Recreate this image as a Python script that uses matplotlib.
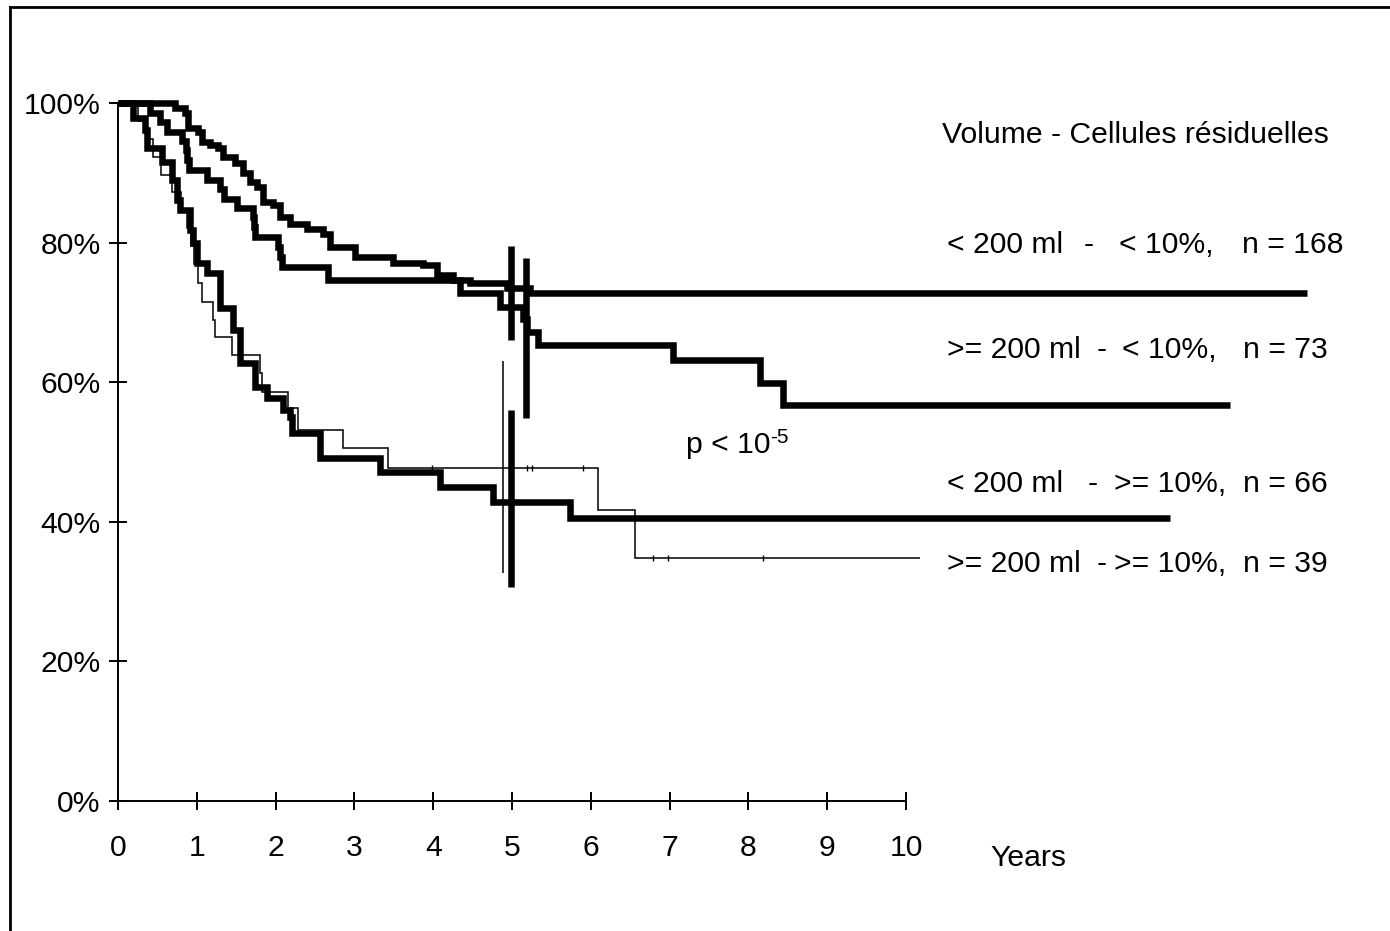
import matplotlib
matplotlib.use("Agg")
import matplotlib.pyplot as plt
from matplotlib.lines import Line2D

plt.rcParams['font.family'] = ['Liberation Sans', 'DejaVu Sans']

# ---------------- data ----------------
# group < 200 ml - < 10%, n = 168
t168 = [0, 0.72, 0.85, 0.89, 1.02, 1.07, 1.17, 1.27, 1.33, 1.48, 1.59, 1.68, 1.76, 1.84,
        1.97, 2.06, 2.18, 2.40, 2.60, 2.69, 3.01, 3.49, 3.87, 4.05, 4.25, 4.47, 4.94, 5.23, 15.09]
s168 = [100, 99.3, 98.6, 96.4, 95.8, 94.4, 94.0, 93.6, 92.3, 91.4, 90.0, 88.7, 88.0, 85.8,
        85.4, 83.7, 82.6, 82.0, 81.2, 79.4, 77.9, 77.1, 76.8, 75.4, 74.6, 74.2, 73.5, 72.8, 72.8]

# group >= 200 ml - < 10%, n = 73
t73 = [0, 0.41, 0.53, 0.62, 0.81, 0.86, 0.88, 0.90, 1.13, 1.30, 1.35, 1.51, 1.71, 1.72, 1.74,
       2.03, 2.05, 2.08, 2.66, 4.34, 4.85, 5.14, 5.19, 5.33, 7.04, 8.15, 8.44, 14.11]
s73 = [100, 98.6, 97.3, 95.9, 94.5, 93.2, 91.8, 90.4, 89.0, 87.7, 86.3, 84.9, 83.6, 82.2, 80.8,
       79.4, 78.0, 76.5, 74.6, 72.8, 70.8, 69.0, 67.2, 65.3, 63.2, 59.9, 56.7, 56.7]

# group < 200 ml - >= 10%, n = 66
t66 = [0, 0.19, 0.34, 0.37, 0.56, 0.69, 0.75, 0.79, 0.91, 0.95, 1.0, 1.13, 1.29, 1.46, 1.55,
       1.74, 1.89, 2.09, 2.18, 2.21, 2.56, 3.32, 4.09, 4.76, 5.74, 13.35]
s66 = [100, 97.9, 96.1, 93.6, 91.5, 89.0, 86.1, 84.7, 81.8, 79.9, 77.1, 75.6, 70.6, 67.5, 62.8,
       59.3, 57.7, 56.0, 55.0, 52.7, 49.1, 47.1, 45.0, 42.8, 40.5, 40.5]

# group >= 200 ml - >= 10%, n = 39
t39 = [0, 0.25, 0.35, 0.45, 0.55, 0.68, 0.80, 0.88, 0.93, 0.97, 1.02, 1.07, 1.21, 1.23, 1.45,
       1.80, 1.83, 2.16, 2.28, 2.86, 3.43, 6.09, 6.56, 10.18]
s39 = [100, 97.4, 94.9, 92.3, 89.7, 87.2, 84.6, 82.1, 79.5, 76.9, 74.2, 71.5, 68.9, 66.5, 63.9,
       61.3, 58.6, 56.3, 53.2, 50.6, 47.7, 41.7, 34.8, 34.8]
cens39_t = [3.98, 5.19, 5.25, 5.90, 6.79, 6.98, 8.18]
cens39_s = [47.7, 47.7, 47.7, 47.7, 34.8, 34.8, 34.8]

# 5-year confidence bars: 168, 73, 39, 66
ci_t = [4.99, 5.18, 4.88, 4.99]
ci_lo = [66.0, 54.9, 32.7, 30.7]
ci_hi = [79.5, 77.8, 63.0, 56.0]
ci_thick = [True, True, False, True]

x_ticks = list(range(0, 11))
y_ticks = [0, 20, 40, 60, 80, 100]
y_ticklabels = ['0%', '20%', '40%', '60%', '80%', '100%']

title_text = 'Volume - Cellules résiduelles'
legend_parts = [
    ['< 200 ml', '-', '< 10%,', 'n = 168'],
    ['>= 200 ml', '-', '< 10%,', 'n = 73'],
    ['< 200 ml', '-', '>= 10%,', 'n = 66'],
    ['>= 200 ml', '-', '>= 10%,', 'n = 39'],
]

# ---------------- layout ----------------
W, H = 1390, 931
fig = plt.figure(figsize=(W / 100, H / 100), dpi=100)
fig.patch.set_facecolor('white')
X0, X10, Y0, Y100 = 118, 906, 801, 103
ax = fig.add_axes([X0 / W, (H - Y0) / H, (X10 - X0) / W, (Y0 - Y100) / H])
ax.set_xlim(0, 10)
ax.set_ylim(0, 100)
ax.patch.set_alpha(0)

def px2x(px):
    return (px - X0) / (X10 - X0) * 10

def py2y(py):
    return (Y0 - py) / (Y0 - Y100) * 100

THICK = 4.7
THIN = 1.1

for t, s, lw in [(t39, s39, THIN), (t66, s66, THICK), (t73, s73, THICK), (t168, s168, THICK)]:
    ax.plot(t, s, drawstyle='steps-post', color='black', lw=lw, clip_on=False,
            solid_joinstyle='miter', solid_capstyle='butt')

ax.plot(cens39_t, cens39_s, ls='none', marker='|', ms=4, mew=1.0, color='black', clip_on=False)

for t, lo, hi, thick in zip(ci_t, ci_lo, ci_hi, ci_thick):
    ax.plot([t, t], [lo, hi], color='black', lw=THICK if thick else THIN,
            solid_capstyle='butt', clip_on=False)

# axes styling
for sp in ['top', 'right']:
    ax.spines[sp].set_visible(False)
for sp in ['left', 'bottom']:
    ax.spines[sp].set_linewidth(1.4)
FS = 21.7
ax.set_xticks(x_ticks)
ax.set_xticklabels([str(v) for v in x_ticks])
ax.set_yticks(y_ticks)
ax.set_yticklabels(y_ticklabels)
ax.tick_params(axis='both', direction='inout', length=13, width=1.4, labelsize=FS)
ax.tick_params(axis='y', pad=6)
ax.tick_params(axis='x', pad=17)

# texts
ax.text(px2x(942), py2y(135), title_text, fontsize=FS, ha='left', va='center', clip_on=False)
label_y = [245, 350, 484, 564]
part_x = [
    [947, 1084, 1119, 1242],
    [947, 1097, 1122, 1243],
    [947, 1088, 1114, 1243],
    [947, 1097, 1114, 1243],
]
for parts, yy, xs in zip(legend_parts, label_y, part_x):
    for p, xx in zip(parts, xs):
        ax.text(px2x(xx), py2y(yy), p, fontsize=FS, ha='left', va='center', clip_on=False)

ax.text(px2x(990), py2y(858), 'Years', fontsize=FS, ha='left', va='center', clip_on=False)

ax.text(px2x(686), py2y(453), 'p < 10', fontsize=FS, ha='left', va='baseline', clip_on=False)
ax.text(px2x(770), py2y(443), '-5', fontsize=15, ha='left', va='baseline', clip_on=False)

# outer frame (left and top edges)
fig.add_artist(Line2D([9.5 / W, 9.5 / W], [0, 1 - 6.5 / H], transform=fig.transFigure,
                      color='black', lw=2))
fig.add_artist(Line2D([9.5 / W, 1], [1 - 6.5 / H, 1 - 6.5 / H], transform=fig.transFigure,
                      color='black', lw=2))

fig.savefig('out.png', dpi=100)
